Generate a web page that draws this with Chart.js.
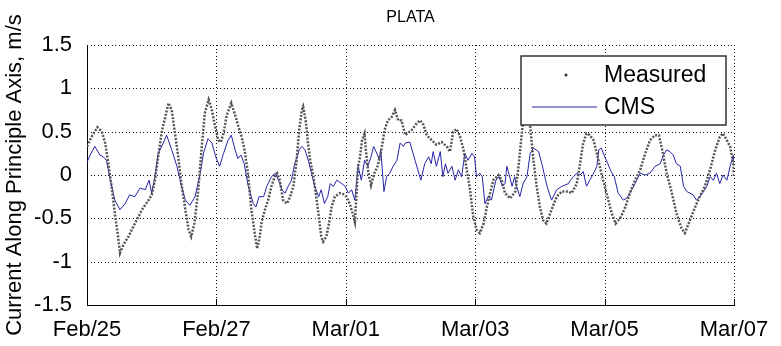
<!DOCTYPE html>
<html>
<head>
<meta charset="utf-8">
<script src="https://cdn.jsdelivr.net/npm/chart.js@4.4.1/dist/chart.umd.min.js"></script>
<style>
  body { margin: 0; background: #fff; }
  #wrap { width: 781px; height: 346px; }
</style>
</head>
<body>
<div id="wrap"><canvas id="plataChart"></canvas></div>
<script>
// PLATA - current along principle axis, measured vs CMS model
const chartTitle = 'PLATA';
const tickLabels = ['Feb/25', 'Feb/27', 'Mar/01', 'Mar/03', 'Mar/05', 'Mar/07'];

// days since Feb/25 00:00
const measuredDays = [
    0, 0.07, 0.16, 0.23, 0.28, 0.33, 0.38, 0.43, 0.48, 0.51,
    0.56, 0.64, 0.74, 0.85, 0.95, 1.00, 1.05, 1.10, 1.16, 1.21,
    1.26, 1.31, 1.36, 1.41, 1.46, 1.52, 1.57, 1.61, 1.66, 1.72,
    1.77, 1.82, 1.88, 1.93, 1.98, 2.03, 2.07, 2.11, 2.16, 2.23,
    2.29, 2.34, 2.39, 2.44, 2.49, 2.54, 2.60, 2.63, 2.67, 2.70,
    2.75, 2.80, 2.85, 2.91, 2.94, 2.98, 3.03, 3.09, 3.14, 3.19,
    3.24, 3.28, 3.32, 3.34, 3.38, 3.41, 3.45, 3.50, 3.55, 3.59,
    3.62, 3.65, 3.70, 3.74, 3.78, 3.83, 3.91, 3.96, 4.01, 4.06,
    4.12, 4.14, 4.19, 4.22, 4.25, 4.29, 4.31, 4.35, 4.39, 4.44,
    4.49, 4.54, 4.60, 4.65, 4.71, 4.76, 4.81, 4.86, 4.92, 5.02,
    5.10, 5.15, 5.20, 5.25, 5.33, 5.40, 5.48, 5.56, 5.61, 5.66,
    5.71, 5.76, 5.82, 5.87, 5.92, 5.97, 6.02, 6.07, 6.13, 6.18,
    6.23, 6.28, 6.36, 6.41, 6.46, 6.54, 6.62, 6.67, 6.72, 6.77,
    6.85, 6.90, 6.95, 7.00, 7.05, 7.10, 7.18, 7.26, 7.34, 7.44,
    7.49, 7.57, 7.62, 7.67, 7.72, 7.77, 7.83, 7.88, 7.95, 8.03,
    8.11, 8.17, 8.24, 8.32, 8.39, 8.47, 8.55, 8.62, 8.70, 8.78,
    8.84, 8.89, 8.96, 9.04, 9.11, 9.19, 9.24, 9.32, 9.40, 9.47,
    9.55, 9.63, 9.71, 9.78, 9.83, 9.89, 9.94, 9.99, 10.0
];
const measuredValues = [
    0.33, 0.44, 0.55, 0.50, 0.37, 0.13, -0.13, -0.44, -0.71, -0.90,
    -0.81, -0.71, -0.56, -0.40, -0.29, -0.23, -0.06, 0.21, 0.52, 0.67,
    0.83, 0.75, 0.48, 0.21, -0.10, -0.40, -0.63, -0.71, -0.56, -0.17,
    0.29, 0.71, 0.87, 0.75, 0.56, 0.40, 0.38, 0.48, 0.69, 0.83,
    0.69, 0.56, 0.44, 0.27, 0.00, -0.40, -0.71, -0.85, -0.71, -0.54,
    -0.40, -0.29, -0.13, 0.00, 0.02, -0.06, -0.29, -0.33, -0.25, -0.13,
    0.17, 0.52, 0.75, 0.79, 0.63, 0.40, 0.17, -0.02, -0.29, -0.52,
    -0.71, -0.77, -0.71, -0.56, -0.37, -0.25, -0.21, -0.22, -0.25, -0.33,
    -0.48, -0.54, 0.10, 0.21, 0.40, 0.48, 0.29, 0.02, -0.12, 0.02,
    0.10, 0.25, 0.52, 0.63, 0.67, 0.75, 0.63, 0.63, 0.46, 0.52,
    0.60, 0.63, 0.58, 0.46, 0.40, 0.35, 0.38, 0.33, 0.27, 0.50,
    0.53, 0.46, 0.29, 0.06, -0.17, -0.48, -0.63, -0.67, -0.56, -0.37,
    -0.21, -0.06, 0.00, -0.06, -0.21, -0.27, -0.19, 0.10, 0.48, 0.80,
    0.56, 0.17, -0.13, -0.37, -0.52, -0.56, -0.40, -0.25, -0.19, -0.19,
    -0.21, -0.10, 0.13, 0.37, 0.48, 0.46, 0.40, 0.25, 0.02, -0.21,
    -0.44, -0.56, -0.50, -0.37, -0.21, -0.06, 0.06, 0.23, 0.40, 0.46,
    0.46, 0.29, 0.02, -0.21, -0.44, -0.62, -0.67, -0.52, -0.37, -0.25,
    -0.13, 0.06, 0.29, 0.44, 0.48, 0.40, 0.33, 0.13, -0.02
];

const cmsDays = [
    0, 0.05, 0.12, 0.20, 0.25, 0.30, 0.36, 0.43, 0.51, 0.59,
    0.66, 0.74, 0.82, 0.90, 0.96, 1.00, 1.05, 1.10, 1.18, 1.23,
    1.31, 1.39, 1.46, 1.52, 1.59, 1.67, 1.75, 1.80, 1.87, 1.93,
    1.99, 2.05, 2.11, 2.18, 2.23, 2.29, 2.33, 2.38, 2.43, 2.49,
    2.57, 2.61, 2.66, 2.73, 2.78, 2.85, 2.91, 2.96, 3.01, 3.06,
    3.11, 3.16, 3.21, 3.28, 3.32, 3.37, 3.42, 3.47, 3.52, 3.58,
    3.62, 3.67, 3.72, 3.76, 3.81, 3.86, 3.94, 3.99, 4.04, 4.09,
    4.14, 4.19, 4.24, 4.29, 4.34, 4.39, 4.43, 4.48, 4.52, 4.54,
    4.59, 4.63, 4.68, 4.73, 4.79, 4.84, 4.89,
    4.92, 4.99, 5.07, 5.16, 5.22, 5.28, 5.32, 5.35, 5.40, 5.46,
    5.50, 5.54, 5.58, 5.64, 5.69, 5.74, 5.79, 5.84, 5.89, 5.95,
    5.99, 6.02, 6.07, 6.11, 6.15, 6.20, 6.25, 6.32, 6.37, 6.42,
    6.46, 6.49, 6.54, 6.57, 6.61, 6.64, 6.69, 6.74, 6.80, 6.85,
    6.90, 6.98, 7.03, 7.11, 7.18, 7.26, 7.34, 7.44,
    7.47, 7.52, 7.57, 7.62, 7.67, 7.72, 7.77, 7.83, 7.88, 7.91,
    7.95, 7.98, 8.05, 8.10, 8.15, 8.21, 8.29, 8.34, 8.42, 8.47,
    8.55, 8.62, 8.70, 8.78, 8.86, 8.91, 8.96, 9.01, 9.06, 9.11,
    9.17, 9.22, 9.27, 9.32, 9.37, 9.42, 9.47, 9.53, 9.58, 9.63,
    9.68, 9.73, 9.78, 9.83, 9.89, 9.94, 9.99, 10.0
];
const cmsValues = [
    0.15, 0.23, 0.33, 0.23, 0.21, 0.17, -0.06, -0.29, -0.40, -0.33,
    -0.23, -0.25, -0.15, -0.17, -0.06, -0.21, -0.02, 0.25, 0.37, 0.46,
    0.29, 0.10, -0.13, -0.29, -0.35, -0.25, 0.02, 0.25, 0.42, 0.37,
    0.21, 0.10, 0.25, 0.40, 0.46, 0.29, 0.19, 0.23, 0.13, -0.12,
    -0.33, -0.37, -0.25, -0.25, -0.13, -0.02, 0.02, -0.06, -0.17, -0.21,
    -0.13, -0.06, 0.13, 0.29, 0.33, 0.29, 0.17, 0.02, -0.13, -0.25,
    -0.17, -0.33, -0.25, -0.10, -0.13, -0.06, -0.10, -0.13, -0.21, -0.17,
    -0.29, 0.10, -0.06, 0.17, 0.10, 0.21, 0.33, 0.25, 0.17, 0.29,
    -0.19, -0.02, 0.02, 0.10, 0.17, 0.37, 0.33,
    0.37, 0.38, 0.17, -0.06, 0.13, 0.21, 0.13, 0.27, 0.10, 0.27,
    -0.02, 0.13, 0.02, 0.10, -0.06, 0.06, -0.02, 0.25, 0.17, 0.25,
    0.21, -0.02, 0.02, -0.02, -0.33, -0.25, -0.29, -0.06, -0.02, -0.13,
    -0.10, 0.10, -0.04, -0.13, -0.02, -0.13, -0.25, -0.10, -0.02, 0.25,
    0.31, 0.27, 0.13, -0.13, -0.29, -0.17, -0.13, -0.10,
    -0.06, -0.02, 0.02, 0.00, 0.04, -0.13, -0.06, 0.02, 0.10, 0.29,
    0.31, 0.25, 0.13, 0.04, -0.02, -0.21, -0.29, -0.27, -0.17, -0.10,
    0.02, 0.00, 0.02, 0.10, 0.13, 0.23, 0.29, 0.27, 0.23, 0.13,
    0.10, -0.13, -0.19, -0.21, -0.23, -0.29, -0.25, -0.19, -0.13, -0.02,
    -0.06, 0.02, -0.10, 0.00, -0.06, 0.10, 0.23, 0.13
];

const FONT = 'Liberation Sans, Arial, sans-serif';
const CMS_BLUE = '#2424a8';

// dotted matlab-style grid, drawn under the data
const dottedGrid = {
    id: 'dottedGrid',
    beforeDatasetsDraw: function(chart) {
        const ctx = chart.ctx;
        const a = chart.chartArea;
        const xs = chart.scales.x, ys = chart.scales.y;
        ctx.save();
        ctx.fillStyle = '#111';
        // dots as tiny squares, every 3.5 px
        xs.ticks.forEach(function(t) {
            const px = Math.round(xs.getPixelForValue(t.value));
            for (let y = a.top; y < a.bottom; y += 3.5) ctx.fillRect(px, Math.round(y), 1, 1);
        });
        ys.ticks.forEach(function(t) {
            const py = Math.round(ys.getPixelForValue(t.value));
            for (let x = a.left; x < a.right; x += 3.5) ctx.fillRect(Math.round(x), py, 1, 1);
        });
        // small inward ticks on the bottom axis
        ctx.fillStyle = '#000';
        xs.ticks.forEach(function(t) {
            const px = Math.round(xs.getPixelForValue(t.value));
            ctx.fillRect(px, a.bottom - 6, 1, 6);
        });
        ctx.restore();
    }
};

// title + boxed legend drawn inside the axes, matlab style
const overlayPlugin = {
    id: 'overlay',
    afterDraw: function(chart) {
        const ctx = chart.ctx;
        const a = chart.chartArea;
        ctx.save();
        ctx.fillStyle = '#000';
        ctx.font = '16px ' + FONT;
        ctx.textAlign = 'center';
        ctx.textBaseline = 'middle';
        ctx.fillText(chartTitle, (a.left + a.right) / 2, 18);

        const bx = a.right - 213, by = a.top + 11, bw = 205, bh = 69;
        ctx.fillStyle = '#fff';
        ctx.fillRect(bx, by, bw, bh);
        ctx.strokeStyle = '#333';
        ctx.lineWidth = 1.5;
        ctx.strokeRect(bx, by, bw, bh);

        ctx.fillStyle = '#333';
        ctx.beginPath();
        ctx.arc(bx + 45, by + 19, 1.5, 0, Math.PI * 2);
        ctx.fill();
        ctx.strokeStyle = CMS_BLUE;
        ctx.lineWidth = 1;
        ctx.beginPath();
        ctx.moveTo(bx + 11, by + 51);
        ctx.lineTo(bx + 76, by + 51);
        ctx.stroke();

        ctx.fillStyle = '#000';
        ctx.font = '23px ' + FONT;
        ctx.textAlign = 'left';
        ctx.fillText(chart.data.datasets[0].label, bx + 83, by + 20);
        ctx.fillText(chart.data.datasets[1].label, bx + 83, by + 52);
        ctx.restore();
    }
};

const ctx = document.getElementById('plataChart').getContext('2d');

new Chart(ctx, {
    type: 'line',
    data: {
        datasets: [{
            label: 'Measured',
            data: measuredDays.map(function(d, i) { return { x: d, y: measuredValues[i] }; }),
            borderColor: '#555',
            borderWidth: 2.5,
            borderDash: [2, 1.5],
            pointRadius: 0,
            tension: 0
        }, {
            label: 'CMS',
            data: cmsDays.map(function(d, i) { return { x: d, y: cmsValues[i] }; }),
            borderColor: CMS_BLUE,
            borderWidth: 1,
            pointRadius: 0,
            tension: 0
        }]
    },
    options: {
        responsive: true,
        maintainAspectRatio: false,
        animation: false,
        layout: {
            padding: { top: 45, right: 47, left: 0, bottom: 0 }
        },
        plugins: {
            legend: { display: false },
            title: { display: false },
            tooltip: { enabled: false }
        },
        scales: {
            x: {
                type: 'linear',
                min: 0,
                max: 10,
                afterFit: function(scale) { scale.height = 41; },
                ticks: {
                    stepSize: 2,
                    padding: 4,
                    color: '#000',
                    font: { family: FONT, size: 22 },
                    maxRotation: 0,
                    autoSkip: false,
                    callback: function(value) { return tickLabels[Math.round(value / 2)]; }
                },
                grid: { display: false },
                border: { display: true, color: '#000', width: 1 }
            },
            y: {
                min: -1.5,
                max: 1.5,
                afterFit: function(scale) { scale.width = 87; },
                ticks: {
                    stepSize: 0.5,
                    padding: 7,
                    color: '#000',
                    font: { family: FONT, size: 22 },
                    callback: function(value) { return String(Math.round(value * 10) / 10); }
                },
                grid: { display: false },
                border: { display: true, color: '#000', width: 1 },
                title: {
                    display: true,
                    text: 'Current Along Principle Axis, m/s',
                    color: '#000',
                    font: { family: FONT, size: 22 },
                    padding: { top: 2, bottom: 0 }
                }
            }
        }
    },
    plugins: [dottedGrid, overlayPlugin]
});
</script>
</body>
</html>
